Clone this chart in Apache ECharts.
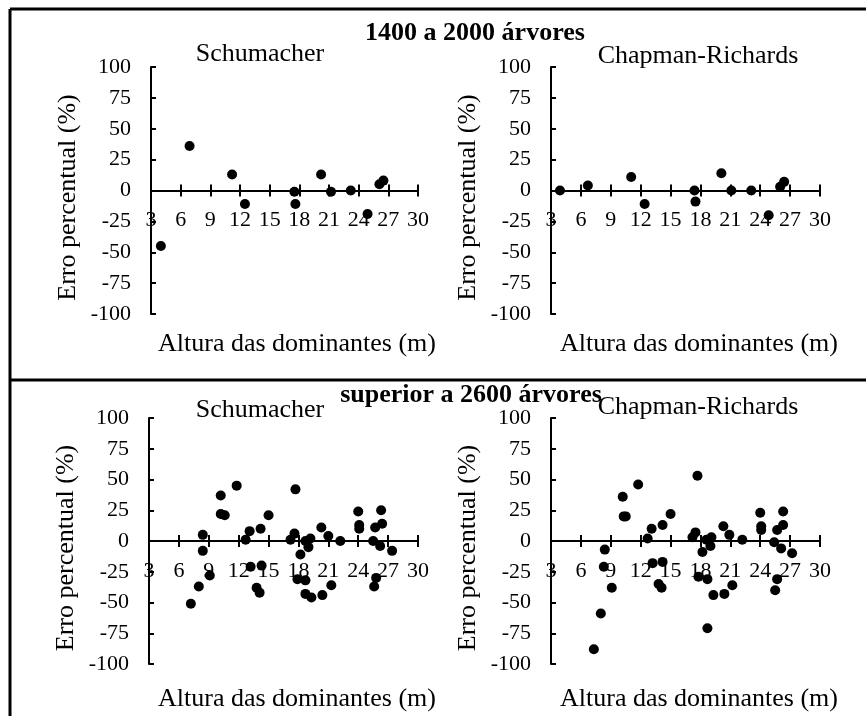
<!DOCTYPE html>
<html>
<head>
<meta charset="utf-8">
<title>Erro percentual</title>
<script src="https://cdn.jsdelivr.net/npm/echarts@6/dist/echarts.min.js"></script>
<style>
  html, body { margin: 0; padding: 0; background: #fff; }
  #main { width: 866px; height: 716px; }
</style>
</head>
<body>
<div id="main"></div>
<script>
// altura das dominantes (m) e erro percentual (%)
// 1400 a 2000 arvores
var schuA_h   = [4.0, 6.9, 11.2, 12.5, 17.5, 17.6, 20.2, 21.2, 23.2, 24.9, 26.1, 26.5];
var schuA_err = [-45, 36, 13, -11, -1, -11, 13, -1, 0, -19, 5, 8];
var chapA_h   = [3.9, 6.7, 11.05, 12.4, 17.4, 17.5, 20.1, 21.1, 23.1, 24.85, 26.0, 26.4];
var chapA_err = [0, 4, 11, -11, 0, -9, 14, 0, 0, -20, 3, 7];
// superior a 2600 arvores
var schuB_h   = [7.2, 8.0, 8.4, 8.4, 9.1, 10.2, 10.2, 10.6, 11.8, 12.7, 13.1, 13.2, 13.8, 14.1, 14.2,
                 14.3, 15.0, 17.2, 17.6, 17.7, 17.9, 18.7, 18.2, 18.7, 18.7, 19.0, 19.2, 19.3, 20.4, 20.3,
                 21.0, 21.3, 22.2, 24.0, 24.1, 24.1, 25.5, 25.6, 25.8, 25.7, 26.2, 26.3, 26.4, 27.4];
var schuB_err = [-51, -37, 5, -8, -28, 37, 22, 21, 45, 1, 8, -21, -38, -42, 10,
                 -20, 21, 1, 6, 42, -31, -32, -11, 0, -43, -5, 2, -46, -44, 11,
                 4, -36, 0, 24, 13, 10, 0, -37, -30, 11, -4, 25, 14, -8];
var chapB_h   = [7.3, 8.0, 8.4, 8.3, 9.1, 10.2, 10.3, 10.5, 11.75, 12.7, 13.1, 13.2, 13.8, 14.1, 14.2,
                 14.2, 15.0, 17.2, 17.5, 17.7, 17.8, 18.2, 18.6, 18.7, 18.7, 19.0, 19.1, 19.3, 20.3, 20.4,
                 20.9, 21.2, 22.2, 24.0, 24.1, 24.1, 25.4, 25.5, 25.7, 25.7, 26.1, 26.3, 26.3, 27.2];
var chapB_err = [-88, -59, -7, -21, -38, 36, 20, 20, 46, 2, 10, -18, -35, -38, 13,
                 -17, 22, 3, 7, 53, -29, -9, 1, -31, -71, -4, 3, -44, 12, -43,
                 5, -36, 1, 23, 12, 9, -1, -40, -31, 9, -6, 24, 13, -10];

var xTicks = [3, 30, 3];       // min, max, interval
var yTicks = [-100, 100, 25];

var font = "'Liberation Serif', 'Times New Roman', serif";

function pairs(h, e) {
  return h.map(function (v, i) { return [v, e[i]]; });
}

var grids = [
  { left: 151, top: 67, width: 267, height: 247 },
  { left: 551, top: 67, width: 269, height: 247 },
  { left: 149, top: 418, width: 269, height: 246 },
  { left: 551, top: 418, width: 269, height: 246 }
];
var panels = [pairs(schuA_h, schuA_err), pairs(chapA_h, chapA_err),
              pairs(schuB_h, schuB_err), pairs(chapB_h, chapB_err)];

var xAxes = [], yAxes = [], series = [];
grids.forEach(function (g, i) {
  // o zero do eixo y fica no meio da grade (-100 a 100)
  var mid = -g.height / 2;
  // eixo x com marcas para fora (e rotulos)
  xAxes.push({
    type: 'value', gridIndex: i, min: xTicks[0], max: xTicks[1], interval: xTicks[2],
    position: 'bottom', offset: mid,
    axisLine: { onZero: false, lineStyle: { color: '#000', width: 2 } },
    axisTick: { inside: false, length: 6, lineStyle: { color: '#000', width: 2 } },
    axisLabel: { color: '#000', fontFamily: font, fontSize: 22, margin: 19, showMinLabel: true, showMaxLabel: true },
    splitLine: { show: false }
  });
  // mesmo eixo, marcas para dentro -> marcas cruzadas
  xAxes.push({
    type: 'value', gridIndex: i, min: xTicks[0], max: xTicks[1], interval: xTicks[2],
    position: 'bottom', offset: mid,
    axisLine: { onZero: false, lineStyle: { color: '#000', width: 2 } },
    axisTick: { inside: true, length: 6, lineStyle: { color: '#000', width: 2 } },
    axisLabel: { show: false },
    splitLine: { show: false }
  });
  yAxes.push({
    type: 'value', gridIndex: i, min: yTicks[0], max: yTicks[1], interval: yTicks[2],
    name: 'Erro percentual (%)', nameLocation: 'middle', nameGap: 70,
    nameTextStyle: { color: '#000', fontFamily: font, fontSize: 26, padding: [0, 14, 0, 0] },
    axisLine: { show: true, onZero: false, lineStyle: { color: '#000', width: 2 } },
    axisTick: { show: true, inside: true, length: 5, lineStyle: { color: '#000', width: 2 } },
    axisLabel: { color: '#000', fontFamily: font, fontSize: 22, margin: 20 },
    splitLine: { show: false }
  });
  series.push({
    type: 'scatter', xAxisIndex: 2 * i, yAxisIndex: i,
    symbol: 'circle', symbolSize: 10,
    itemStyle: { color: '#000', opacity: 1 },
    data: panels[i]
  });
});

function txt(x, y, s, bold) {
  return {
    type: 'text', x: x, y: y, silent: true,
    style: {
      text: s, fill: '#000', font: (bold ? 'bold ' : '') + '26px ' + font,
      textAlign: 'center', textVerticalAlign: 'middle'
    }
  };
}
function ln(x1, y1, x2, y2) {
  return { type: 'line', silent: true, shape: { x1: x1, y1: y1, x2: x2, y2: y2 },
           style: { stroke: '#000', lineWidth: 3 } };
}

var chart = echarts.init(document.getElementById('main'));
chart.setOption({
  backgroundColor: '#fff',
  animation: false,
  grid: grids,
  xAxis: xAxes,
  yAxis: yAxes,
  series: series,
  graphic: [
    ln(10, 9, 866, 9), ln(10, 9, 10, 716), ln(10, 380, 866, 380),
    txt(475, 33, '1400 a 2000 árvores', true),
    txt(260, 54, 'Schumacher'),
    txt(698, 56, 'Chapman-Richards'),
    txt(297, 344, 'Altura das dominantes (m)'),
    txt(699, 344, 'Altura das dominantes (m)'),
    txt(471, 395, 'superior a 2600 árvores', true),
    txt(260, 410, 'Schumacher'),
    txt(698, 407, 'Chapman-Richards'),
    txt(297, 699, 'Altura das dominantes (m)'),
    txt(699, 699, 'Altura das dominantes (m)')
  ]
});
</script>
</body>
</html>
